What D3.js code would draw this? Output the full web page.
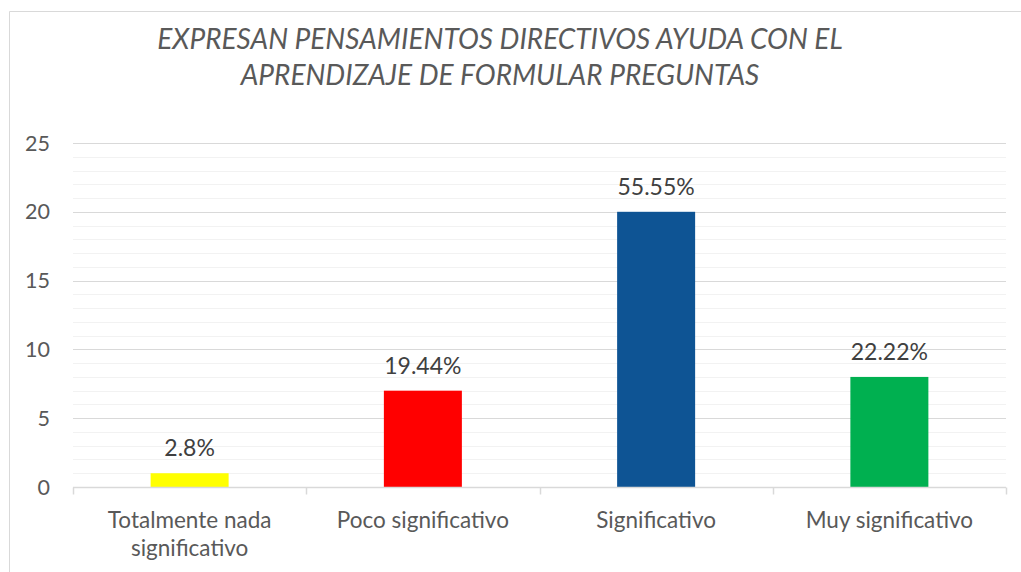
<!DOCTYPE html>
<html>
<head>
<meta charset="utf-8">
<script src="https://cdn.jsdelivr.net/npm/d3@7.9.0/dist/d3.min.js"></script>
<style>
  body { margin: 0; background: #fff; }
  svg { display: block; font-family: Lato, sans-serif; }
</style>
</head>
<body>
<svg id="chart" width="1021" height="572"></svg>
<script>
const categories = [['Totalmente nada', 'significativo'], ['Poco significativo'], ['Significativo'], ['Muy significativo']];
const values = [1, 7, 20, 8];
const valueLabels = ['2.8%', '19.44%', '55.55%', '22.22%'];
const colors = ['#ffff00', '#ff0000', '#0e5494', '#00b050'];
const titleLines = ['EXPRESAN PENSAMIENTOS DIRECTIVOS AYUDA CON EL', 'APRENDIZAJE DE FORMULAR PREGUNTAS'];
const yTicks = [0, 5, 10, 15, 20, 25];

const svg = d3.select('#chart');

// chart frame (right and bottom edges fall outside the picture)
svg.append('path')
  .attr('d', `M9.5,572 V11.5 H1021`)
  .attr('fill', 'none')
  .attr('stroke', '#d9d9d9');

const x = d3.scaleBand()
  .domain(d3.range(categories.length))
  .range([73, 1006])
  .paddingInner(0)
  .paddingOuter(0);

const y = d3.scaleLinear().domain([0, 25]).range([487, 143]);

// minor gridlines
svg.append('g')
  .selectAll('line')
  .data(d3.range(1, 25).filter(d => d % 5 !== 0))
  .join('line')
  .attr('x1', 73).attr('x2', 1006)
  .attr('y1', d => Math.round(y(d)) + 0.5)
  .attr('y2', d => Math.round(y(d)) + 0.5)
  .attr('stroke', '#f2f2f2')
  .attr('stroke-width', 1.2);

// major gridlines
svg.append('g')
  .selectAll('line')
  .data(yTicks.filter(d => d > 0))
  .join('line')
  .attr('x1', 73).attr('x2', 1006)
  .attr('y1', d => Math.round(y(d)) + 0.5)
  .attr('y2', d => Math.round(y(d)) + 0.5)
  .attr('stroke', '#d9d9d9')
  .attr('stroke-width', 1.2);

// y axis labels
svg.append('g')
  .selectAll('text')
  .data(yTicks)
  .join('text')
  .attr('x', 50)
  .attr('y', d => y(d))
  .attr('dy', '0.35em')
  .attr('text-anchor', 'end')
  .attr('fill', '#595959')
  .attr('font-size', 21.5)
  .text(d => d);

// bars
const bw = 78;
svg.append('g')
  .selectAll('rect')
  .data(values)
  .join('rect')
  .attr('x', (d, i) => x(i) + x.bandwidth() / 2 - bw / 2)
  .attr('y', d => y(d))
  .attr('width', bw)
  .attr('height', d => y(0) - y(d))
  .attr('fill', (d, i) => colors[i]);

// x axis line + ticks
const gx = svg.append('g').attr('transform', `translate(0,${Math.round(y(0)) + 0.5})`);
gx.append('line').attr('x1', 73).attr('x2', 1006).attr('stroke', '#d9d9d9').attr('stroke-width', 1.5);
gx.selectAll('line.tick')
  .data(d3.range(categories.length + 1))
  .join('line')
  .attr('class', 'tick')
  .attr('x1', i => Math.round(i < categories.length ? x(i) : x(i - 1) + x.bandwidth()) + 0.5)
  .attr('x2', i => Math.round(i < categories.length ? x(i) : x(i - 1) + x.bandwidth()) + 0.5)
  .attr('y1', 0).attr('y2', 7)
  .attr('stroke', '#d9d9d9')
  .attr('stroke-width', 1.5);

// category labels
svg.append('g')
  .selectAll('text')
  .data(categories)
  .join('text')
  .attr('x', (d, i) => x(i) + x.bandwidth() / 2)
  .attr('y', 528)
  .attr('text-anchor', 'middle')
  .attr('fill', '#595959')
  .attr('font-size', 22.5)
  .each(function (d) {
    d3.select(this).selectAll('tspan')
      .data(d)
      .join('tspan')
      .attr('x', d3.select(this).attr('x'))
      .attr('dy', (t, j) => j === 0 ? 0 : 28)
      .text(t => t);
  });

// data labels
svg.append('g')
  .selectAll('text')
  .data(values)
  .join('text')
  .attr('x', (d, i) => x(i) + x.bandwidth() / 2)
  .attr('y', d => y(d) - 17)
  .attr('text-anchor', 'middle')
  .attr('fill', '#404040')
  .attr('font-size', 23)
  .text((d, i) => valueLabels[i]);

// title
svg.append('g')
  .selectAll('text')
  .data(titleLines)
  .join('text')
  .attr('x', 500)
  .attr('y', (d, i) => 49 + i * 36)
  .attr('text-anchor', 'middle')
  .attr('fill', '#595959')
  .attr('font-size', 28)
  .attr('font-style', 'italic')
  .text(d => d);
</script>
</body>
</html>
